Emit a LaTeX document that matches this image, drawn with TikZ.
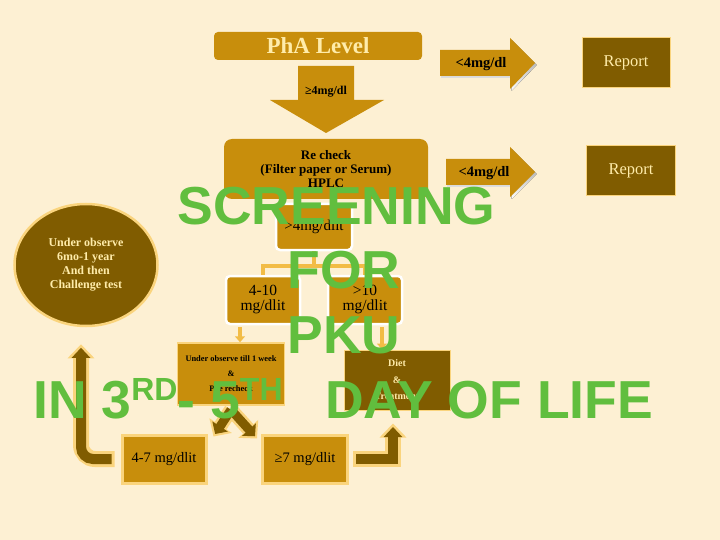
\documentclass[tikz,border=0pt]{standalone}
\usepackage{fontspec}
\setmainfont{Liberation Serif}
\newfontfamily\wordart{Liberation Sans}
\usetikzlibrary{calc,arrows.meta,shapes.geometric}
\definecolor{bg}{RGB}{253,240,211}
\definecolor{gold}{RGB}{200,142,12}
\definecolor{dbrown}{RGB}{128,92,0}
\definecolor{lite}{RGB}{250,212,125}
\definecolor{cream}{RGB}{255,236,170}
\definecolor{orng}{RGB}{242,188,70}
\definecolor{shade}{RGB}{125,95,95}
\definecolor{grn}{RGB}{97,190,62}
\newcommand\wordsup[1]{\raisebox{18pt}{\fontsize{32}{32}\selectfont #1}}

\begin{document}
\begin{tikzpicture}[x=1pt,y=-1pt,
  box/.style={inner sep=0pt, align=center, text=black},
  goldbox/.style={box, fill=gold, draw=lite, line width=1.5pt},
  wbox/.style={box, fill=gold, draw=white, line width=2.5pt, rounded corners=4pt, minimum width=74pt, minimum height=48pt, font=\fontsize{15.5}{15}\selectfont},
  brownbox/.style={box, fill=dbrown, draw=lite, line width=1pt, text=cream},
  litearr/.style={draw=lite, line width=16pt, -{Triangle[width=26pt,length=14pt]}},
  darkarr/.style={draw=dbrown, line width=10pt, shorten >=3.5pt, -{Triangle[width=18pt,length=10pt]}},
  thinarr/.style={draw=orng, line width=4pt, -{Triangle[width=10pt,length=6pt]}},
  big/.style={font=\wordart\bfseries\fontsize{53.5}{60}\selectfont, text=grn, inner sep=0pt, anchor=base}
]
\fill[bg] (0,0) rectangle (720,540);
\useasboundingbox (0,0) rectangle (720,540);

% top row
\node[box, fill=gold, rounded corners=4pt, minimum width=208pt, minimum height=28pt, text=cream, font=\bfseries\fontsize{23}{25}\selectfont] (lvl) at (318,46) {PhA Level};
\fill[gold] (298,66) -- (354,66) -- (354,100) -- (384,100) -- (326,133) -- (270,100) -- (298,100) -- cycle;
\node[font=\bfseries\fontsize{12}{14}\selectfont] (ge4) at (326,92) {≥4mg/dl};

\fill[shade, shift={(1.5,2)}] (440,50) -- (510,50) -- (510,38) -- (535,63) -- (510,89) -- (510,76) -- (440,76) -- cycle;
\fill[gold] (440,50) -- (510,50) -- (510,38) -- (535,63) -- (510,89) -- (510,76) -- (440,76) -- cycle;
\node[font=\bfseries\fontsize{14.5}{16}\selectfont] (lt1) at (481,64) {<4mg/dl};
\node[brownbox, minimum width=88pt, minimum height=50pt, font=\fontsize{16.5}{18}\selectfont] (rep1) at (626,63) {Report};

% recheck row
\node[box, fill=gold, rounded corners=8pt, minimum width=204pt, minimum height=60pt, font=\bfseries\fontsize{13}{14}\selectfont] (rck) at (326,169) {Re check\\(Filter paper or Serum)\\HPLC};
\fill[shade, shift={(1.5,2)}] (446,159) -- (510,159) -- (510,147) -- (535,172) -- (510,197) -- (510,185) -- (446,185) -- cycle;
\fill[gold] (446,159) -- (510,159) -- (510,147) -- (535,172) -- (510,197) -- (510,185) -- (446,185) -- cycle;
\node[font=\bfseries\fontsize{14.5}{16}\selectfont] (lt2) at (484,173) {<4mg/dl};
\node[brownbox, minimum width=89pt, minimum height=50pt, font=\fontsize{16.5}{18}\selectfont] (rep2) at (631,171) {Report};

\node[wbox, minimum width=76pt, minimum height=46pt, font=\fontsize{15}{16}\selectfont] (gt4) at (314,227) {>4mg/dlit};
\node[wbox] (b410) at (263,300) {4-10\\mg/dlit};
\node[wbox] (b10) at (365,300) {>10\\mg/dlit};
\node[goldbox, minimum width=107pt, minimum height=62pt, font=\bfseries\fontsize{8.4}{15}\selectfont] (obs) at (231,374) {Under observe till 1 week\\\&\\Phe recheck};
\node[brownbox, minimum width=106pt, minimum height=60pt, font=\bfseries\fontsize{10}{16.5}\selectfont] (diet) at (397,380) {Diet\\\&\\Treatment};
\node[goldbox, line width=3pt, minimum width=84pt, minimum height=48pt, font=\fontsize{14.5}{16}\selectfont] (b47) at (164,459) {4-7 mg/dlit};
\node[goldbox, line width=3pt, minimum width=85pt, minimum height=48pt, font=\fontsize{14.5}{16}\selectfont] (b7) at (305,459) {≥7 mg/dlit};
\node[ellipse, fill=dbrown, draw=lite, line width=2.5pt, minimum width=143pt, minimum height=122pt, inner sep=0pt, align=center, text=cream, font=\bfseries\fontsize{12}{14}\selectfont] (circ) at (86,265) {Under observe\\6mo-1 year\\And then\\Challenge test};

% connectors
\draw[orng, line width=4pt] (gt4.south) -- ++(0,15) -| (b410.north);
\draw[orng, line width=4pt] (gt4.south) ++(0,15) -| (b10.north);
\coordinate (p1) at ($(b410.south)+(-23,2)$);
\coordinate (p2) at ($(b10.south)+(17,2)$);
\draw[thinarr] (p1) -- (p1 |- obs.north);
\draw[thinarr] (p2) -- (p2 |- diet.north);

\coordinate (ap) at ($(obs.south)+(0,4)$);
\draw[litearr, line width=14pt, -{Triangle[width=26pt,length=13pt]}] (ap) -- ($(b47.north east)+(6,3)$);
\draw[litearr, line width=14pt, -{Triangle[width=26pt,length=13pt]}] (ap) -- ($(b7.north west)+(-4,5)$);
\draw[darkarr, line width=9pt, shorten >=3pt, -{Triangle[width=18pt,length=9pt]}] (ap) -- ($(b47.north east)+(6,3)$);
\draw[darkarr, line width=9pt, shorten >=3pt, -{Triangle[width=18pt,length=9pt]}] (ap) -- ($(b7.north west)+(-4,5)$);

\draw[litearr, rounded corners=14pt] ($(b47.west)+(-6,0)$) -| ($(circ.south)+(-5,17)$);
\draw[darkarr, rounded corners=12pt] ($(b47.west)+(-9,0)$) -| ($(circ.south)+(-5,17)$);
\draw[litearr] ($(b7.east)+(4,0)$) -| ($(diet.south)+(-4,13)$);
\draw[darkarr] ($(b7.east)+(7,0)$) -| ($(diet.south)+(-4,13)$);

% title text
\node[big] (scr) at (336.5,225) {SCREENING};
\node[big] (for) at (344,288) {FOR};
\node[big] (pku) at (344,353) {PKU};
\node[big, anchor=base west] (inday) at (33,418) {IN 3\wordsup{RD}- 5\wordsup{TH}};
\node[big] (dol) at (489,418) {DAY OF LIFE};
\end{tikzpicture}
\end{document}
